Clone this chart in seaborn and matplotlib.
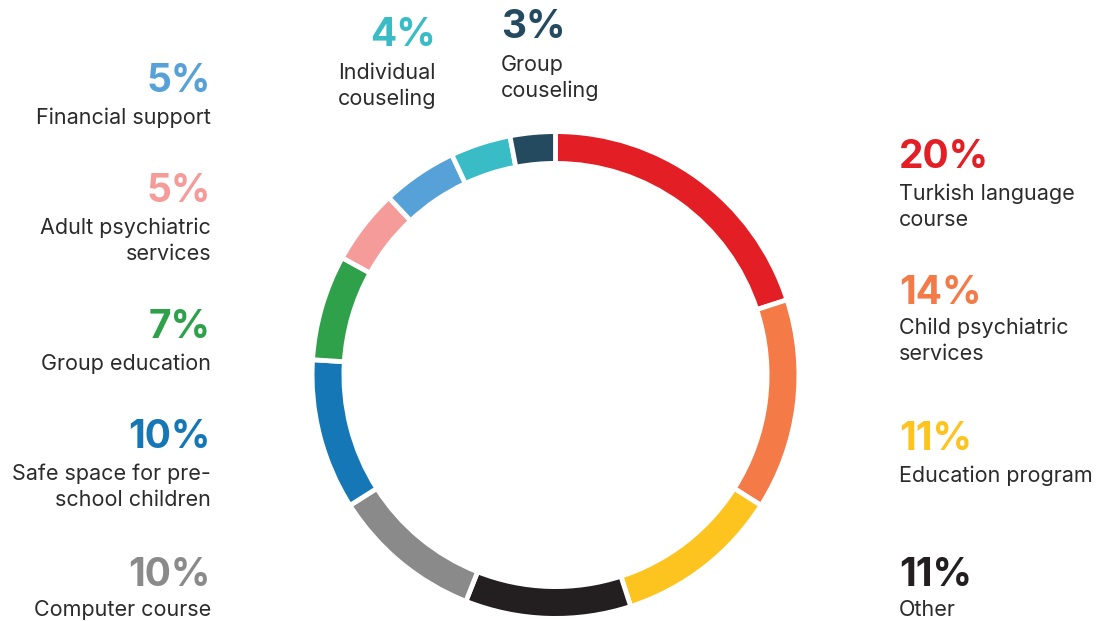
import matplotlib
matplotlib.use("Agg")
import matplotlib.pyplot as plt
import seaborn as sns

sns.set_theme(style="white")
plt.rcParams["font.family"] = ["Inter", "DejaVu Sans"]

# Services, clockwise from the top of the ring
categories = [
    "Turkish language\ncourse",
    "Child psychiatric\nservices",
    "Education program",
    "Other",
    "Computer course",
    "Safe space for pre-\nschool children",
    "Group education",
    "Adult psychiatric\nservices",
    "Financial support",
    "Individual\ncouseling",
    "Group\ncouseling",
]
shares = [20, 14, 11, 11, 10, 10, 7, 5, 5, 4, 3]
colors = sns.color_palette([
    "#E31E24", "#F47A48", "#FDC41F", "#231F20", "#8A8A8A", "#1677B7",
    "#2FA14A", "#F59C9B", "#57A1D9", "#3ABCC6", "#244A60",
])

W, H = 1112, 621
fig = plt.figure(figsize=(W / 100, H / 100), dpi=100)
fig.patch.set_facecolor("white")

# Ring geometry in pixels
cx, cy, r_out, thick, gap = 555.5, 375.0, 241.0, 27.0, 4.8
R = r_out + gap / 2
ax = fig.add_axes([(cx - R) / W, 1 - (cy + R) / H, 2 * R / W, 2 * R / H])
ring_w = (thick + gap) / R
ax.pie(shares, colors=colors, startangle=90, counterclock=False, radius=1.0,
       wedgeprops=dict(width=ring_w, edgecolor="white", linewidth=gap * 0.72))
ax.set_xlim(-1, 1)
ax.set_ylim(-1, 1)
ax.set_aspect("equal")
ax.axis("off")

# Label layout: (x, y of percentage, y of first text line, alignment)
layout = [
    (899, 158, 194, "left"),
    (899, 293, 328, "left"),
    (899, 440, 476, "left"),
    (899, 575, 610, "left"),
    (211, 575, 610, "right"),
    (211, 438, 474, "right"),
    (211, 328, 364, "right"),
    (211, 191, 228, "right"),
    (211, 81, 118, "right"),
    (436, 35, 73, "right"),
    (501, 27, 65, "left"),
]
LINE = 25.5  # pixel distance between label lines

for name, val, col, (x, yp, yl, ha) in zip(categories, shares, colors, layout):
    fig.text(x / W, 1 - yp / H, f"{val}%", color=col, fontsize=28,
             fontweight="bold", ha=ha, va="center")
    for i, line in enumerate(name.split("\n")):
        fig.text(x / W, 1 - (yl + i * LINE) / H, line, color="#2B2B2B",
                 fontsize=15.5, ha=ha, va="center")

fig.savefig("out.png", dpi=100, facecolor="white")
